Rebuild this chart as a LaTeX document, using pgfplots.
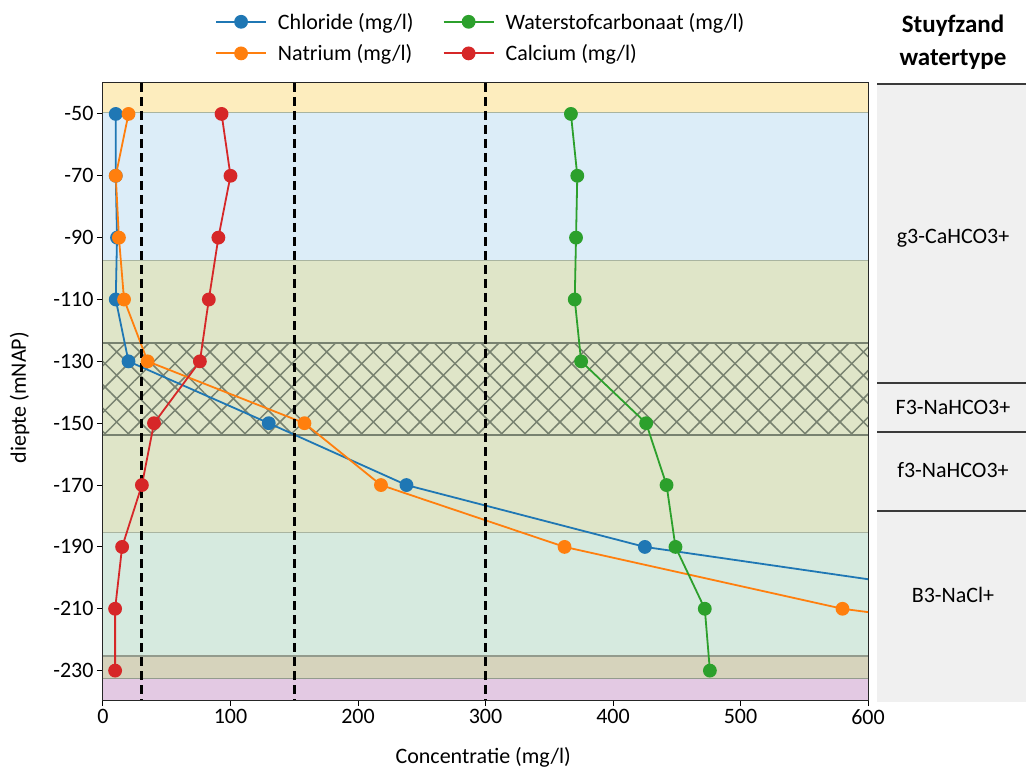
\documentclass[border=0pt]{standalone}
\usepackage{fontspec}
\setmainfont{Carlito}
\usepackage{pgfplots}
\pgfplotsset{compat=1.18}
\usetikzlibrary{patterns.meta}
\definecolor{cCl}{HTML}{1F77B4}
\definecolor{cNa}{HTML}{FF7F0E}
\definecolor{cHC}{HTML}{2CA02C}
\definecolor{cCa}{HTML}{D62728}
\definecolor{bYel}{HTML}{FDEDBE}
\definecolor{bBlu}{HTML}{DCEDF8}
\definecolor{bOli}{HTML}{DFE5C8}
\definecolor{bMin}{HTML}{D6EADF}
\definecolor{bTan}{HTML}{D6D3BC}
\definecolor{bPur}{HTML}{E3C9E3}
\definecolor{hatchcol}{HTML}{788270}
\definecolor{edgecol}{HTML}{A9B4A0}
\definecolor{panelgray}{HTML}{F0F0F0}
\definecolor{panelline}{HTML}{3A3A3A}
\begin{document}
\begin{tikzpicture}[font=\fontsize{22}{26}\selectfont]
\useasboundingbox (-103pt,-72pt) rectangle (923pt,700pt);
\begin{axis}[
  at={(0pt,0pt)}, anchor=south west,
  scale only axis, width=765pt, height=617pt,
  xmin=0, xmax=600, ymin=-239.5, ymax=-40,
  xtick={0,100,...,600},
  ytick={-230,-210,-190,-170,-150,-130,-110,-90,-70,-50},
  yticklabels={-230,-210,-190,-170,-150,-130,-110,-90,-70,-50},
  xtick pos=bottom, ytick pos=left,
  /pgf/number format/assume math mode=true,
  tick align=outside,
  major tick length=6pt,
  tick style={black, line width=1pt},
  axis line style={line width=1.2pt, black!85},
  xlabel={Concentratie (mg/l)},
  ylabel={diepte (mNAP)},
  xlabel style={at={(axis description cs:0.497,0)}, anchor=base, yshift=-63pt},
  ylabel style={at={(axis description cs:-0.0915,0.49)}, anchor=south},
  legend style={at={(axis description cs:0.1464,1.117)}, anchor=north west,
    draw=none, fill=none, inner sep=0pt, row sep=10pt,
    nodes={inner sep=2pt},
    /tikz/every odd column/.append style={column sep=9pt},
    /tikz/every even column/.append style={column sep=27pt}},
  legend cell align=left,
  transpose legend,
  legend columns=2,
  legend image code/.code={\draw[mark repeat=2,mark phase=2] plot coordinates {(0pt,0pt) (25pt,0pt) (50pt,0pt)};},
  every axis plot/.append style={line width=1.8pt, mark=*, mark size=6pt, mark options={solid}},
]
% background bands
\fill[bYel] (axis cs:0,-40) rectangle (axis cs:600,-49.5);
\fill[bBlu] (axis cs:0,-49.5) rectangle (axis cs:600,-97.3);
\fill[bOli] (axis cs:0,-97.3) rectangle (axis cs:600,-185.3);
\fill[bMin] (axis cs:0,-185.3) rectangle (axis cs:600,-225.3);
\fill[bTan] (axis cs:0,-225.3) rectangle (axis cs:600,-232.6);
\fill[bPur] (axis cs:0,-232.6) rectangle (axis cs:600,-239.5);
\fill[pattern={Lines[angle=45,distance=16.5pt,line width=1.5pt]}, pattern color=hatchcol] (axis cs:0,-124.2) rectangle (axis cs:600,-153.7);
\fill[pattern={Lines[angle=-45,distance=16.5pt,line width=1.5pt]}, pattern color=hatchcol] (axis cs:0,-124.2) rectangle (axis cs:600,-153.7);
\draw[edgecol, line width=1pt] (axis cs:0,-49.5) -- (axis cs:600,-49.5);
\draw[edgecol, line width=1.2pt] (axis cs:0,-97.3) -- (axis cs:600,-97.3);
\draw[edgecol, line width=1.2pt] (axis cs:0,-185.3) -- (axis cs:600,-185.3);
\draw[hatchcol!80, line width=1.2pt] (axis cs:0,-225.3) -- (axis cs:600,-225.3);
\draw[hatchcol!80, line width=1.2pt] (axis cs:0,-232.6) -- (axis cs:600,-232.6);
\draw[hatchcol, line width=2pt] (axis cs:0,-124.2) -- (axis cs:600,-124.2);
\draw[hatchcol, line width=2pt] (axis cs:0,-153.7) -- (axis cs:600,-153.7);
% data
\addplot[color=cCl] coordinates {(10,-50) (10,-70) (11,-90) (10,-110) (20,-130) (130,-150) (238,-170) (425,-190) (760,-210) (1100,-230)};
\addlegendentry{Chloride (mg/l)}
\addplot[color=cNa] coordinates {(20,-50) (10,-70) (12.5,-90) (16.5,-110) (35,-130) (158,-150) (218,-170) (362,-190) (580,-210) (950,-230)};
\addlegendentry{Natrium (mg/l)}
\addplot[color=cHC] coordinates {(367,-50) (372,-70) (371,-90) (370,-110) (375,-130) (426,-150) (442,-170) (449,-190) (472,-210) (476,-230)};
\addlegendentry{Waterstofcarbonaat (mg/l)}
\addplot[color=cCa] coordinates {(93,-50) (100,-70) (90.5,-90) (83,-110) (76,-130) (40,-150) (30.5,-170) (15,-190) (9.5,-210) (9.5,-230)};
\addlegendentry{Calcium (mg/l)}
% reference lines
\addplot[black, line width=3pt, mark=none, dash pattern=on 9pt off 5pt, forget plot] coordinates {(30,-40) (30,-239.5)};
\addplot[black, line width=3pt, mark=none, dash pattern=on 9pt off 5pt, forget plot] coordinates {(150,-40) (150,-239.5)};
\addplot[black, line width=3pt, mark=none, dash pattern=on 9pt off 5pt, forget plot] coordinates {(300,-40) (300,-239.5)};
\end{axis}
% Stuyfzand panel
\fill[panelgray] (774pt,-2pt) rectangle (923pt,617pt);
\draw[panelline, line width=2.5pt] (774pt,616pt) -- (923pt,616pt);
\draw[panelline, line width=2.5pt] (774pt,317pt) -- (923pt,317pt);
\draw[panelline, line width=2.5pt] (774pt,268pt) -- (923pt,268pt);
\draw[panelline, line width=2.5pt] (774pt,189pt) -- (923pt,189pt);
\node at (850pt,462pt) {g3-CaHCO3+};
\node at (850pt,293pt) {F3-NaHCO3+};
\node at (850pt,230pt) {f3-NaHCO3+};
\node at (850pt,105pt) {B3-NaCl+};
\node[font=\bfseries\fontsize{25}{33}\selectfont, align=center] at (850pt,658pt) {Stuyfzand\\watertype};
\end{tikzpicture}
\end{document}
